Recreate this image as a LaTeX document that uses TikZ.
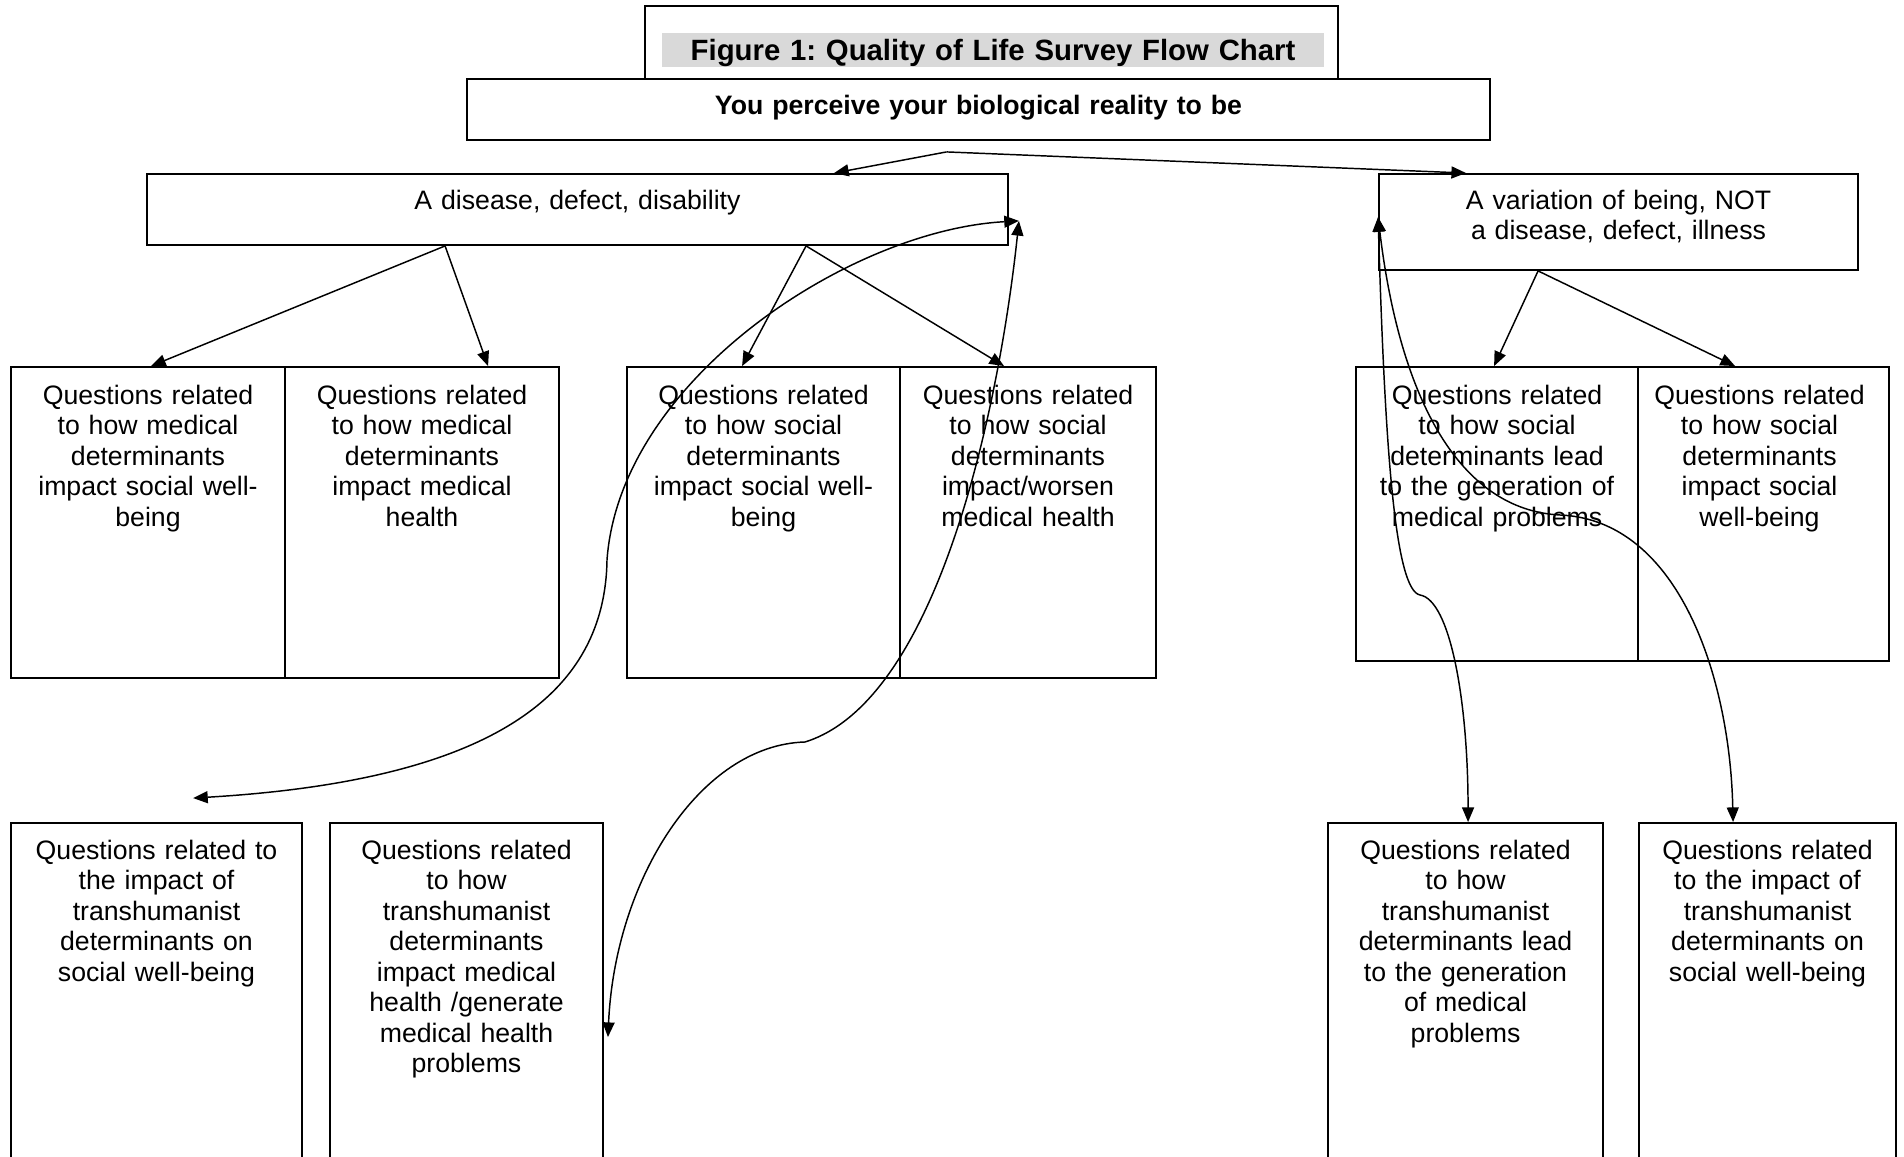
\documentclass[tikz,border=0pt]{standalone}
\usepackage{fontspec}
\setmainfont{Liberation Sans}
\usetikzlibrary{arrows.meta,calc,fit}
\definecolor{barGrey}{HTML}{D9D9D9}
\frenchspacing
\begin{document}
\begin{tikzpicture}[x=0.375pt,y=-0.375pt,
  box/.style={draw,line width=0.7pt,inner sep=0pt},
  qtext/.style={font=\fontsize{10pt}{11.45pt}\selectfont,align=center,text width=96pt,anchor=base,inner sep=0pt},
  ltext/.style={font=\fontsize{10pt}{11.45pt}\selectfont,align=center,text width=250pt,anchor=base,inner sep=0pt},
  btext/.style={font=\fontsize{10pt}{12pt}\selectfont\bfseries,align=center,text width=300pt,anchor=base,inner sep=0pt},
  ttext/.style={font=\fontsize{11pt}{13pt}\selectfont\bfseries,align=center,text width=300pt,anchor=base,inner sep=0pt},
  arr/.style={line width=0.55pt,-{Triangle[length=5.5pt,width=4.5pt]}},
  darr/.style={line width=0.55pt,{Triangle[length=5.5pt,width=4.5pt]}-{Triangle[length=5.5pt,width=4.5pt]}}]
\useasboundingbox (0,0) rectangle (1904,1157);
\clip (0,0) rectangle (1904,1157);

% title
\node[box, fit={(645,6) (1338,79)}] (titlebox) {};
\node[fill=barGrey, inner sep=0pt, fit={(662,33) (1324,67)}] (bar) {};
\node[ttext] (title) at ($(bar.south)+(0,-7)$) {Figure 1: Quality of Life Survey Flow Chart};

\node[box, fit={(467,79) (1490,140)}] (perceive) {};
\node[btext] (perceivet) at ($(perceive.north)+(0,36)$) {You perceive your biological reality to be};

% level 1
\node[box, fit={(147,174) (1008,245)}] (disease) {};
\node[ltext] (diseaset) at ($(disease.north)+(0,36)$) {A disease, defect, disability};
\node[box, fit={(1379,174) (1858,270)}] (variation) {};
\node[ltext] (variationt) at ($(variation.north)+(0,36)$) {A variation of being, NOT\\a disease, defect, illness};

% level 2
\node[box, fit={(11,367) (285,678)}] (m1) {};
\node[box, fit={(285,367) (559,678)}] (m2) {};
\node[box, fit={(627,367) (900,678)}] (s1) {};
\node[box, fit={(900,367) (1156,678)}] (s2) {};
\node[box, fit={(1356,367) (1638,661)}] (v1) {};
\node[box, fit={(1638,367) (1889,661)}] (v2) {};

\node[qtext] (m1t) at ($(m1.north)+(0,38)$) {Questions related\\to how medical\\determinants\\impact social well-\\being};
\node[qtext] (m2t) at ($(m2.north)+(0,38)$) {Questions related\\to how medical\\determinants\\impact medical\\health};
\node[qtext] (s1t) at ($(s1.north)+(0,38)$) {Questions related\\to how social\\determinants\\impact social well-\\being};
\node[qtext] (s2t) at ($(s2.north)+(0,38)$) {Questions related\\to how social\\determinants\\impact/worsen\\medical health};
\node[qtext] (v1t) at ($(v1.north)+(0,38)$) {Questions related\\to how social\\determinants lead\\to the generation of\\medical problems};
\node[qtext] (v2t) at ($(v2.north)+(-4,38)$) {Questions related\\to how social\\determinants\\impact social\\well-being};

% level 3
\node[box, fit={(11,823) (302,1170)}] (t1) {};
\node[box, fit={(330,823) (603,1170)}] (t2) {};
\node[box, fit={(1328,823) (1603,1170)}] (t3) {};
\node[box, fit={(1639,823) (1896,1170)}] (t4) {};

\node[qtext] (t1t) at ($(t1.north)+(0,37)$) {Questions related to\\the impact of\\transhumanist\\determinants on\\social well-being};
\node[qtext] (t2t) at ($(t2.north)+(0,37)$) {Questions related\\to how\\transhumanist\\determinants\\impact medical\\health /generate\\medical health\\problems};
\node[qtext] (t3t) at ($(t3.north)+(0,37)$) {Questions related\\to how\\transhumanist\\determinants lead\\to the generation\\of medical\\problems};
\node[qtext] (t4t) at ($(t4.north)+(0,37)$) {Questions related\\to the impact of\\transhumanist\\determinants on\\social well-being};

% straight connectors
\coordinate (split) at ($(perceive.south)+(-32,11)$);
\draw[arr] (split) -- ($(disease.north west)+(688,0)$);
\draw[arr] (split) -- ($(variation.north west)+(88,0)$);

\coordinate (dl) at ($(disease.south west)+(299,0)$);
\coordinate (dr) at ($(disease.south west)+(660,0)$);
\coordinate (vb) at ($(variation.south west)+(160,0)$);
\draw[arr] (dl) -- ($(m1.north west)+(141,0)$);
\draw[arr] (dl) -- ($(m2.north west)+(204,0)$);
\draw[arr] (dr) -- ($(s1.north west)+(116,0)$);
\draw[arr] (dr) -- ($(s2.north west)+(105,0)$);
\draw[arr] (vb) -- ($(v1.north west)+(139,0)$);
\draw[arr] (vb) -- ($(v2.north west)+(98,0)$);

% curved connectors
\coordinate (dtip) at ($(disease.south east)+(10,-25)$);
\coordinate (vtip) at ($(variation.north west)+(0,44)$);
\coordinate (aend) at ($(t1.north west)+(183,-24)$);
\coordinate (bend) at ($(t2.north east)+(4,215)$);

\draw[darr] (dtip) .. controls (850,230) and (620,380) .. (607,560)
  .. controls (605,690) and (500,780) .. (aend);
\draw[darr] (dtip) .. controls (1000,400) and (940,700) .. (805,742)
  .. controls (700,745) and (615,880) .. (bend);
\draw[darr] (vtip) .. controls (1385,450) and (1395,590) .. (1420,595)
  .. controls (1450,600) and (1468,700) .. ($(t3.north west)+(141,0)$);
\draw[darr] (vtip) .. controls (1400,400) and (1460,510) .. (1560,515)
  .. controls (1680,520) and (1730,680) .. ($(t4.north west)+(95,0)$);
\end{tikzpicture}
\end{document}
